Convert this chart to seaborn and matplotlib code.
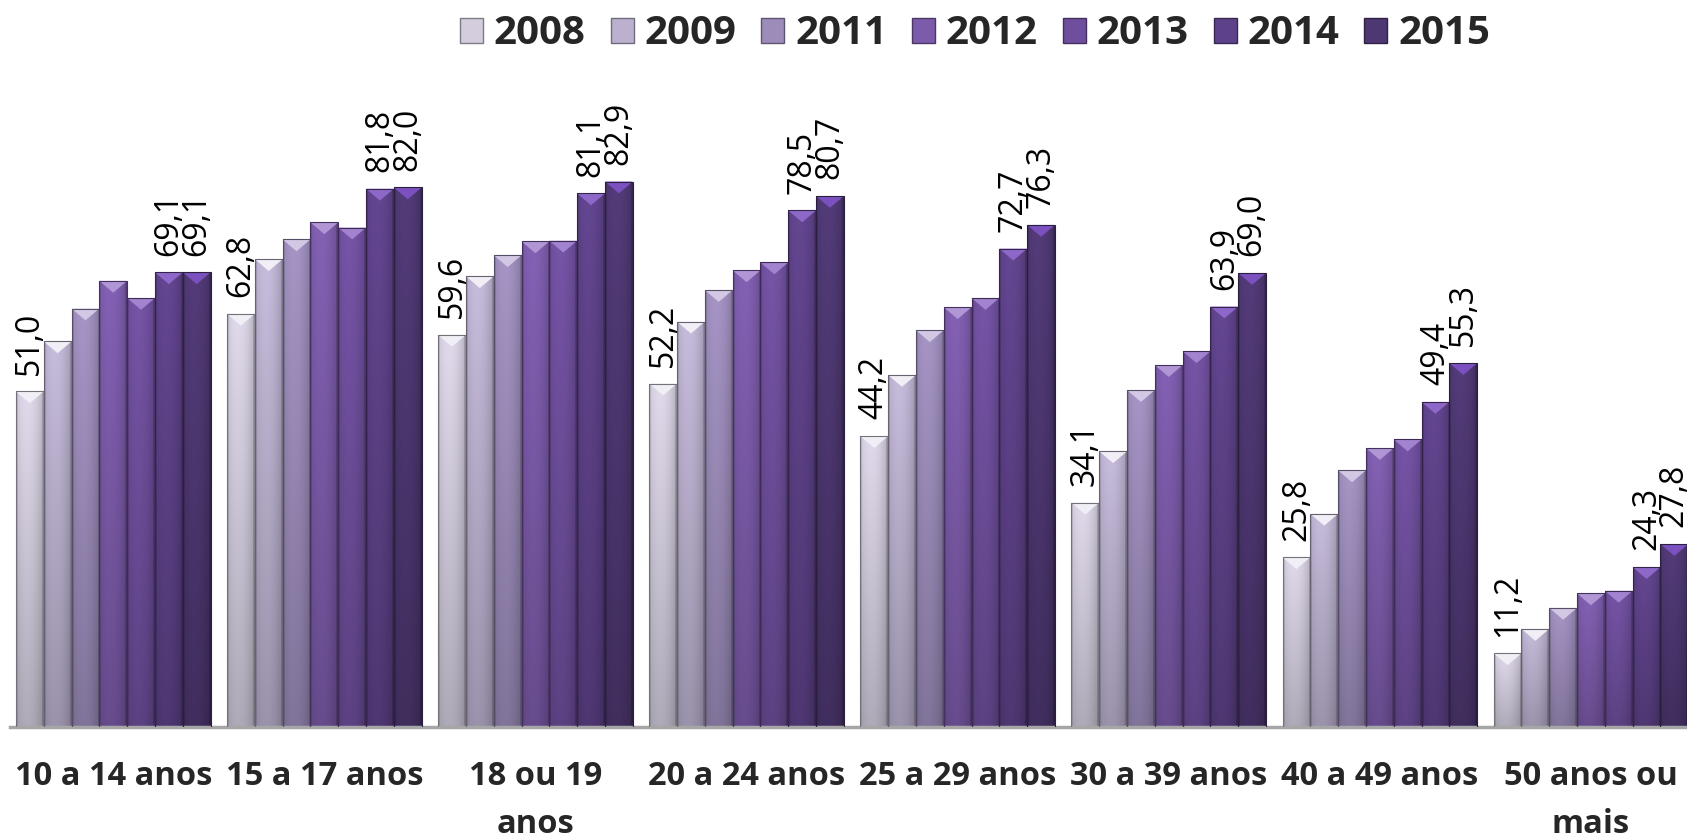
import numpy as np
import pandas as pd
import matplotlib
matplotlib.use("Agg")
import matplotlib.pyplot as plt
from matplotlib.patches import Patch, Polygon
from matplotlib.colors import to_rgb
import colorsys
import seaborn as sns

# ---------------- DATA ----------------

categories = ["10 a 14 anos", "15 a 17 anos", "18 ou 19\nanos", "20 a 24 anos",
              "25 a 29 anos", "30 a 39 anos", "40 a 49 anos", "50 anos ou\nmais"]
years = ["2008", "2009", "2011", "2012", "2013", "2014", "2015"]

v2008 = [51.0, 62.8, 59.6, 52.2, 44.2, 34.1, 25.8, 11.2]
v2009 = [58.6, 71.1, 68.5, 61.6, 53.5, 41.9, 32.4, 14.9]
v2011 = [63.6, 74.1, 71.7, 66.4, 60.3, 51.2, 39.0, 18.1]
v2012 = [67.8, 76.7, 73.8, 69.4, 63.8, 55.0, 42.4, 20.3]
v2013 = [65.2, 75.9, 73.9, 70.6, 65.2, 57.1, 43.7, 20.7]
v2014 = [69.1, 81.8, 81.1, 78.5, 72.7, 63.9, 49.4, 24.3]
v2015 = [69.1, 82.0, 82.9, 80.7, 76.3, 69.0, 55.3, 27.8]

labeled_years = ["2008", "2014", "2015"]

colors = ["#D3CDDE", "#BBB1CF", "#9C8CBA", "#7C5BAA", "#6F4F9D", "#5E4289", "#4E3872"]

series = [v2008, v2009, v2011, v2012, v2013, v2014, v2015]
df = pd.DataFrame({
    "faixa": categories * len(years),
    "ano": [y for y in years for _ in categories],
    "valor": [v for s in series for v in s],
})


def highlight(c):
    h, l, s = colorsys.rgb_to_hls(*to_rgb(c))
    return colorsys.hls_to_rgb(h, min(0.95, l + 0.2), min(1.0, s * 1.35))


# ---------------- PLOT ----------------

sns.set_style("white")
plt.rcParams["font.family"] = ["Open Sans", "DejaVu Sans"]

fig = plt.figure(figsize=(16.87, 8.38), dpi=100)
ax = fig.add_axes([10 / 1687, 111 / 838, 1677 / 1687, 658 / 838])

sns.barplot(data=df, x="faixa", y="valor", hue="ano", order=categories,
            hue_order=years, palette=colors, width=0.922, gap=0,
            ax=ax, legend=False, saturation=1, edgecolor="none")

# shading on each bar (gradient + bevel triangle on top)
ny, nx = 64, 32
yy = np.linspace(0, 1, ny)[:, None]
xx = np.linspace(0, 1, nx)[None, :]
vshade = 0.80 + 0.22 * yy
hshade = 1.04 - 0.55 * (xx - 0.4) ** 2
hshade[:, :2] *= 0.85
hshade[:, -2:] *= 0.80
shade = vshade * hshade

for i, cont in enumerate(ax.containers):
    base = np.array(to_rgb(colors[i]))
    img = np.clip(base[None, None, :] * shade[:, :, None], 0, 1)
    light = highlight(colors[i])
    for bar in cont:
        x0, w, h = bar.get_x(), bar.get_width(), bar.get_height()
        im = ax.imshow(img, extent=(x0, x0 + w, 0, h), origin="lower",
                       aspect="auto", zorder=2, interpolation="bilinear")
        im.set_clip_path(bar)
        tri = Polygon([(x0, h), (x0 + w, h), (x0 + w / 2, h - 1.8)],
                      closed=True, facecolor=light, edgecolor="none", zorder=3)
        ax.add_patch(tri)
        ax.add_patch(Polygon([(x0, 0), (x0, h), (x0 + w, h), (x0 + w, 0)],
                             closed=False, fill=False,
                             edgecolor=base * 0.55, linewidth=0.8, zorder=4))
    if years[i] in labeled_years:
        vals = series[i]
        ax.bar_label(cont, labels=[f"{v:.1f}".replace(".", ",") for v in vals],
                     rotation=90, padding=12, fontsize=23, color="black",
                     clip_on=False, zorder=5)

ax.set_xlim(-0.489, 7.455)
ax.set_ylim(0, 100)
ax.set_xlabel("")
ax.set_ylabel("")
ax.set_yticks([])
ax.tick_params(axis="x", length=0, pad=24)
for lab in ax.get_xticklabels():
    lab.set_fontsize(23.5)
    lab.set_fontweight("bold")
    lab.set_linespacing(1.6)
for side in ["left", "top", "right"]:
    ax.spines[side].set_visible(False)
ax.spines["bottom"].set_color("#A6A6A6")
ax.spines["bottom"].set_linewidth(2.5)

handles = [Patch(facecolor=c, edgecolor=np.array(to_rgb(c)) * 0.6, label=y)
           for c, y in zip(colors, years)]
fig.legend(handles=handles, loc="center", bbox_to_anchor=(975 / 1687, 1 - 34 / 838),
           ncol=7, frameon=False, prop={"weight": "bold", "size": 29},
           handlelength=0.57, handleheight=0.57, handletextpad=0.27,
           columnspacing=0.62)

fig.savefig("out.png", dpi=100)
